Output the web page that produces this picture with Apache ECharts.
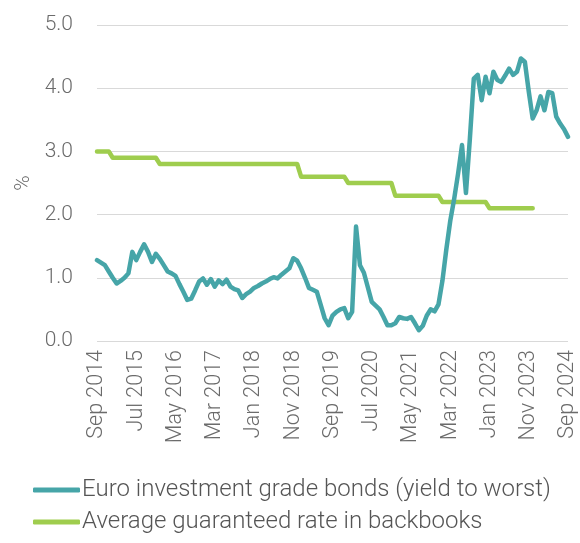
<!DOCTYPE html>
<html>
<head>
<meta charset="utf-8">
<script src="https://cdn.jsdelivr.net/npm/echarts@6/dist/echarts.min.js"></script>
<style>
  html, body { margin: 0; padding: 0; background: #fff; }
  #chart { width: 580px; height: 543px; }
</style>
</head>
<body>
<div id="chart"></div>
<script>
// Monthly observations, Sep 2014 – Sep 2024
const MONTH_NAMES = ['Jan','Feb','Mar','Apr','May','Jun','Jul','Aug','Sep','Oct','Nov','Dec'];
const START_YEAR = 2014, START_MONTH = 8, MONTH_COUNT = 121;
const months = [];
for (let k = 0; k < MONTH_COUNT; k++) {
  const m = (START_MONTH + k) % 12;
  const y = START_YEAR + Math.floor((START_MONTH + k) / 12);
  months.push(MONTH_NAMES[m] + ' ' + y);
}

// Euro investment grade bonds, yield to worst (%)
const euroIgYield = [
  1.28, 1.24, 1.20, 1.10, 1.00, 0.91, 0.95, 1.00, 1.07, 1.41,
  1.28, 1.41, 1.53, 1.41, 1.25, 1.38, 1.30, 1.20, 1.10, 1.07,
  1.03, 0.90, 0.78, 0.65, 0.67, 0.80, 0.94, 0.99, 0.89, 0.98,
  0.86, 0.96, 0.90, 0.97, 0.86, 0.82, 0.80, 0.68, 0.74, 0.78,
  0.84, 0.87, 0.91, 0.94, 0.98, 1.01, 0.99, 1.05, 1.10, 1.15,
  1.31, 1.27, 1.15, 1.00, 0.84, 0.81, 0.78, 0.57, 0.36, 0.25,
  0.40, 0.46, 0.50, 0.52, 0.36, 0.46, 1.81, 1.20, 1.08, 0.85,
  0.62, 0.56, 0.50, 0.38, 0.25, 0.25, 0.28, 0.38, 0.36, 0.35,
  0.38, 0.28, 0.17, 0.24, 0.40, 0.50, 0.47, 0.58, 0.95, 1.45,
  1.90, 2.25, 2.65, 3.10, 2.34, 3.20, 4.15, 4.21, 3.81, 4.18,
  3.92, 4.26, 4.13, 4.10, 4.20, 4.31, 4.21, 4.26, 4.47, 4.42,
  3.95, 3.52, 3.65, 3.87, 3.65, 3.94, 3.92, 3.55, 3.44, 3.35,
  3.23
];

// Average guaranteed rate in backbooks (%), reset each January
const backbookRate = [
  3.0, 3.0, 3.0, 3.0,
  2.9, 2.9, 2.9, 2.9, 2.9, 2.9, 2.9, 2.9, 2.9, 2.9, 2.9, 2.9,
  2.8, 2.8, 2.8, 2.8, 2.8, 2.8, 2.8, 2.8, 2.8, 2.8, 2.8, 2.8,
  2.8, 2.8, 2.8, 2.8, 2.8, 2.8, 2.8, 2.8, 2.8, 2.8, 2.8, 2.8,
  2.8, 2.8, 2.8, 2.8, 2.8, 2.8, 2.8, 2.8, 2.8, 2.8, 2.8, 2.8,
  2.6, 2.6, 2.6, 2.6, 2.6, 2.6, 2.6, 2.6, 2.6, 2.6, 2.6, 2.6,
  2.5, 2.5, 2.5, 2.5, 2.5, 2.5, 2.5, 2.5, 2.5, 2.5, 2.5, 2.5,
  2.3, 2.3, 2.3, 2.3, 2.3, 2.3, 2.3, 2.3, 2.3, 2.3, 2.3, 2.3,
  2.2, 2.2, 2.2, 2.2, 2.2, 2.2, 2.2, 2.2, 2.2, 2.2, 2.2, 2.2,
  2.1, 2.1, 2.1, 2.1, 2.1, 2.1, 2.1, 2.1, 2.1, 2.1, 2.1, 2.1,
  null, null, null, null, null, null, null, null, null
];

const SERIES_NAMES = [
  'Euro investment grade bonds (yield to worst)',
  'Average guaranteed rate in backbooks'
];

const TEAL = '#46a5a8';
const GREEN = '#9fcd4e';
const FONT = 'Roboto, "Liberation Sans", sans-serif';
const TEXT = '#6b6b6b';

const chart = echarts.init(document.getElementById('chart'), null, { renderer: 'canvas' });
chart.setOption({
  animation: false,
  backgroundColor: '#ffffff',
  grid: { left: 97, right: 12, top: 25, bottom: 202, containLabel: false },
  legend: {
    orient: 'vertical',
    left: 33,
    top: 478,
    height: 65,
    padding: 0,
    itemGap: 8,
    itemWidth: 47,
    itemHeight: 5,
    icon: 'roundRect',
    data: SERIES_NAMES,
    textStyle: {
      fontFamily: FONT, fontWeight: 300, fontSize: 24, color: '#555555',
      padding: [0, 0, 0, -3]
    }
  },
  xAxis: {
    type: 'category',
    data: months,
    boundaryGap: false,
    axisLine: { show: false },
    axisTick: { show: false },
    axisLabel: {
      interval: 9,
      rotate: 90,
      margin: 9,
      fontFamily: FONT,
      fontWeight: 300,
      fontSize: 21.5,
      color: TEXT
    },
    splitLine: { show: false }
  },
  yAxis: {
    type: 'value',
    min: 0,
    max: 5,
    interval: 1,
    name: '%',
    nameLocation: 'middle',
    nameRotate: 90,
    nameGap: 63,
    nameTextStyle: { fontFamily: FONT, fontWeight: 300, fontSize: 21, color: TEXT },
    axisLine: { show: false },
    axisTick: { show: false },
    axisLabel: {
      margin: 24,
      fontFamily: FONT,
      fontWeight: 300,
      fontSize: 21,
      color: TEXT,
      formatter: v => v.toFixed(1)
    },
    splitLine: { lineStyle: { color: '#d9d9d9', width: 1 } }
  },
  series: [
    {
      name: SERIES_NAMES[1],
      type: 'line',
      data: backbookRate,
      showSymbol: false,
      symbol: 'none',
      color: GREEN,
      lineStyle: { color: GREEN, width: 4.5, cap: 'round', join: 'round' },
      z: 2
    },
    {
      name: SERIES_NAMES[0],
      type: 'line',
      data: euroIgYield,
      showSymbol: false,
      symbol: 'none',
      color: TEAL,
      lineStyle: { color: TEAL, width: 4.5, cap: 'round', join: 'round' },
      z: 3
    }
  ]
});
</script>
</body>
</html>
